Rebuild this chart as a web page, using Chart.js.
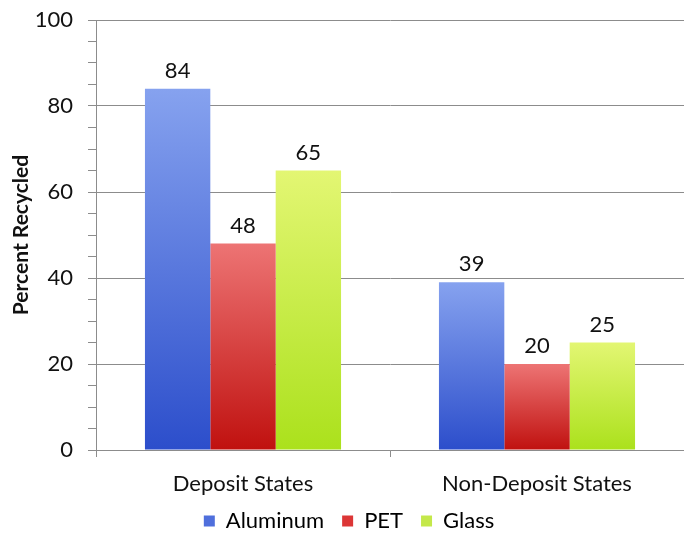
<!DOCTYPE html>
<html>
<head>
<meta charset="utf-8">
<script src="https://cdn.jsdelivr.net/npm/chart.js@4.4.0/dist/chart.umd.min.js"></script>
<style>
  html, body { margin: 0; padding: 0; background: #fff; }
  #wrap { width: 684px; height: 533px; }
</style>
</head>
<body>
<div id="wrap"><canvas id="myChart"></canvas></div>
<script>
"use strict";

const categories = ['Deposit States', 'Non-Deposit States'];
const aluminum = [84, 39];
const pet = [48, 20];
const glass = [65, 25];
const seriesNames = ['Aluminum', 'PET', 'Glass'];

// light top -> dark bottom for each bar
const gradients = [
  ['#86a2ef', '#2c4ecb'],
  ['#ed7474', '#c0110f'],
  ['#e3f673', '#abe11c']
];
const legendColors = ['#4f6fdc', '#dc3636', '#c4e84a'];
const gridColor = '#8c8c8c';
const fontFamily = 'Lato, "Open Sans", sans-serif';
const fontSize = 22;

const barFill = (idx) => (context) => {
  const chart = context.chart;
  if (!chart.chartArea || context.raw === undefined) return gradients[idx][1];
  const y = chart.scales.y;
  const top = y.getPixelForValue(context.raw);
  const bottom = y.getPixelForValue(0);
  const g = chart.ctx.createLinearGradient(0, top, 0, bottom);
  g.addColorStop(0, gradients[idx][0]);
  g.addColorStop(1, gradients[idx][1]);
  return g;
};

// numbers above the bars
const valueLabels = {
  id: 'valueLabels',
  afterDatasetsDraw(chart) {
    const ctx = chart.ctx;
    ctx.save();
    ctx.font = fontSize + 'px ' + fontFamily;
    ctx.fillStyle = '#111';
    ctx.textAlign = 'center';
    ctx.textBaseline = 'bottom';
    chart.data.datasets.forEach((ds, i) => {
      chart.getDatasetMeta(i).data.forEach((bar, j) => {
        ctx.fillText(ds.data[j], bar.x, bar.y - 7);
      });
    });
    ctx.restore();
  }
};

// legend sits a little right of centre in the original
const nudgeLegend = {
  id: 'nudgeLegend',
  afterLayout(chart) {
    if (!chart.legend) return;
    chart.legend.left += 7;
    chart.legend.right += 7;
  }
};

const ctx = document.getElementById('myChart').getContext('2d');

new Chart(ctx, {
  type: 'bar',
  data: {
    labels: categories,
    datasets: [aluminum, pet, glass].map((data, i) => ({
      label: seriesNames[i],
      data,
      backgroundColor: barFill(i),
      borderWidth: 0,
      categoryPercentage: 0.667,
      barPercentage: 1
    }))
  },
  options: {
    animation: false,
    responsive: true,
    maintainAspectRatio: false,
    layout: { padding: { top: 20, right: 0, left: 0, bottom: -9 } },
    plugins: {
      tooltip: { enabled: false },
      legend: {
        position: 'bottom',
        labels: {
          font: { family: fontFamily, size: fontSize },
          color: '#111',
          boxWidth: 11,
          boxHeight: 11,
          padding: 18,
          generateLabels: (chart) => chart.data.datasets.map((ds, i) => ({
            text: ds.label,
            fillStyle: legendColors[i],
            strokeStyle: legendColors[i],
            lineWidth: 0,
            datasetIndex: i
          }))
        }
      }
    },
    scales: {
      x: {
        afterFit: (scale) => {
          scale.height = 42;
          // let the category labels run past the short axis box
          scale._computeLabelArea = () => undefined;
        },
        grid: {
          offset: true,
          drawOnChartArea: false,
          drawTicks: true,
          tickLength: 7,
          tickColor: gridColor
        },
        border: { color: gridColor },
        ticks: {
          font: { family: fontFamily, size: fontSize },
          color: '#111',
          padding: 14
        }
      },
      y: {
        min: 0,
        max: 100,
        afterFit: (scale) => {
          scale.width = 96;
          scale.paddingTop = 0;
        },
        ticks: {
          stepSize: 5,
          autoSkip: false,
          font: { family: fontFamily, size: fontSize },
          color: '#111',
          padding: 15,
          callback: (v) => (v % 20 === 0 ? v : '')
        },
        grid: {
          color: (c) => (c.tick && c.tick.value % 20 === 0 ? gridColor : 'rgba(0,0,0,0)'),
          tickColor: gridColor,
          tickLength: 8
        },
        border: { color: gridColor },
        title: {
          display: true,
          text: 'Percent Recycled',
          font: { family: fontFamily, size: 21, weight: 'bold' },
          color: '#111',
          padding: { top: 9, bottom: 2 }
        }
      }
    }
  },
  plugins: [valueLabels, nudgeLegend]
});
</script>
</body>
</html>
